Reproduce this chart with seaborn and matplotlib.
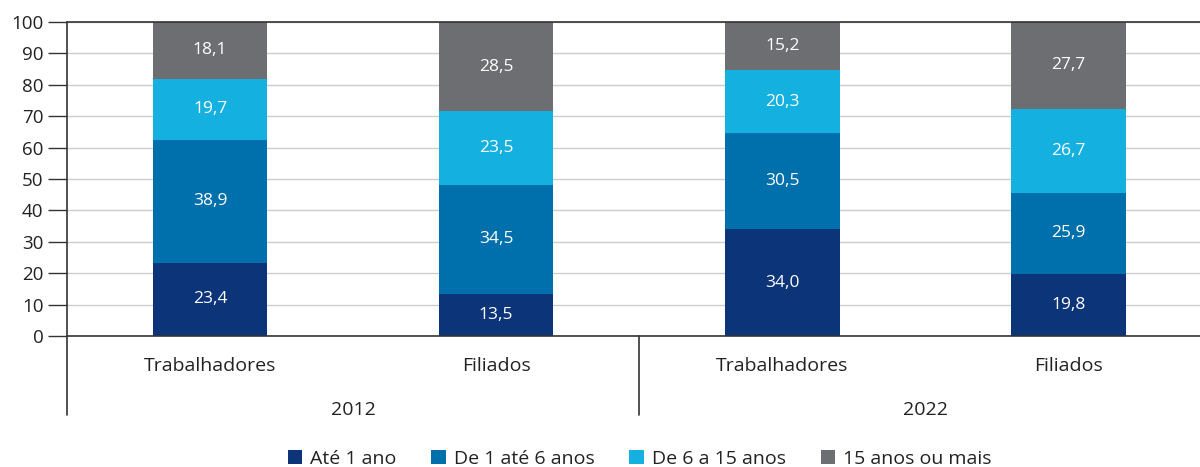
import numpy as np
import pandas as pd
import seaborn as sns
import matplotlib.pyplot as plt
from matplotlib.lines import Line2D
from matplotlib.patches import Patch

groups = ["Trabalhadores", "Filiados", "Trabalhadores", "Filiados"]
years = ["2012", "2022"]
series = ["Até 1 ano", "De 1 até 6 anos", "De 6 a 15 anos", "15 anos ou mais"]
ate_1 = [23.4, 13.5, 34.0, 19.8]
de_1_6 = [38.9, 34.5, 30.5, 25.9]
de_6_15 = [19.7, 23.5, 20.3, 26.7]
mais_15 = [18.1, 28.5, 15.2, 27.7]
colors = ["#0b3479", "#0070ad", "#14b0df", "#6d6e71"]

sns.set_theme(style="white")
plt.rcParams["font.family"] = ["Open Sans", "DejaVu Sans"]

vals = np.array([ate_1, de_1_6, de_6_15, mais_15])
cum = np.cumsum(vals, axis=0)
pos = np.arange(len(groups))

fig = plt.figure(figsize=(12, 4.67), dpi=100)
ax = fig.add_axes([67 / 1200, 1 - 336 / 467, 1 - 67 / 1200, 314 / 467])

for c in ax.spines.values():
    c.set_visible(False)
ax.set_yticks(range(0, 101, 10))
ax.yaxis.grid(True, color="#cccccc", linewidth=1)
ax.set_axisbelow(True)

# stacked bars: draw cumulative totals from the top layer downwards
for i in range(len(series) - 1, -1, -1):
    df = pd.DataFrame({"x": pos, "y": cum[i]})
    sns.barplot(data=df, x="x", y="y", color=colors[i], width=0.4,
                saturation=1, native_scale=True, ax=ax, linewidth=0)

for i in range(len(series)):
    for j in range(len(groups)):
        mid = cum[i][j] - vals[i][j] / 2
        ax.text(pos[j], mid, f"{vals[i][j]:.1f}".replace(".", ","),
                ha="center", va="center", color="white", fontsize=12.5)

ax.set_xlim(-0.5, 3.46)
ax.set_ylim(0, 100)
ax.set_xticks([])
ax.set_xlabel("")
ax.set_ylabel("")
ax.tick_params(axis="y", left=True, length=14, width=1, color="#333333",
               labelsize=13.5, labelcolor="#222222", pad=3)

ax.axhline(0, color="#333333", lw=1.2, clip_on=False)
ax.axhline(100, color="#333333", lw=1.2, clip_on=False)

tr = ax.get_xaxis_transform()
for xv in [-0.5, 1.5]:
    top = 1.0 if xv == -0.5 else 0.0
    ax.add_line(Line2D([xv, xv], [-0.252, top], transform=tr, color="#333333",
                       lw=1.2, clip_on=False))
for j, g in enumerate(groups):
    ax.text(pos[j], -0.096, g, transform=tr, ha="center", va="center",
            fontsize=14, color="#222222")
for k, yr in enumerate(years):
    ax.text(0.5 + 2 * k, -0.236, yr, transform=tr, ha="center", va="center",
            fontsize=14, color="#222222")

handles = [Patch(facecolor=c, edgecolor="none") for c in colors]
fig.legend(handles, series, loc="center", bbox_to_anchor=(0.533, 0.018), ncol=4,
           frameon=False, fontsize=14, handlelength=0.75, handleheight=0.75,
           handletextpad=0.4, columnspacing=1.8, labelcolor="#222222")

fig.savefig("out.png", dpi=100)
